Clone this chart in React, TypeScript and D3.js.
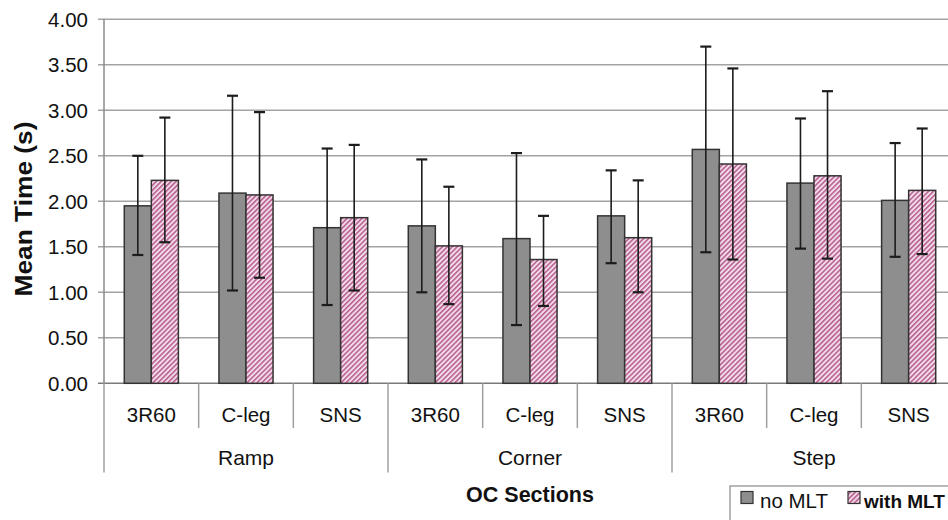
import * as d3 from "d3";

const groups = ["Ramp", "Corner", "Step"];
const prostheses = ["3R60", "C-leg", "SNS"];
const series = ["no MLT", "with MLT"];
const yTicks = [0, 0.5, 1, 1.5, 2, 2.5, 3, 3.5, 4];

// means and error bar ends, order: Ramp(3R60, C-leg, SNS), Corner(...), Step(...)
const noMLT = [1.95, 2.09, 1.71, 1.73, 1.59, 1.84, 2.57, 2.2, 2.01];
const noMLTLow = [1.41, 1.02, 0.86, 1.0, 0.64, 1.32, 1.44, 1.48, 1.39];
const noMLTHigh = [2.5, 3.16, 2.58, 2.46, 2.53, 2.34, 3.7, 2.91, 2.64];
const withMLT = [2.23, 2.07, 1.82, 1.51, 1.36, 1.6, 2.41, 2.28, 2.12];
const withMLTLow = [1.55, 1.16, 1.02, 0.87, 0.85, 1.0, 1.36, 1.37, 1.42];
const withMLTHigh = [2.92, 2.98, 2.62, 2.16, 1.84, 2.23, 3.46, 3.21, 2.8];

const W = 948;
const H = 520;
const M = { left: 104, top: 19.3, right: 956, bottom: 383.3 };

export default function App() {
  const cats = groups.flatMap((g) => prostheses.map((p) => `${g}|${p}`));

  const x0 = d3.scaleBand<string>().domain(cats).range([M.left, M.right]);
  const x1 = d3
    .scaleBand<string>()
    .domain(series)
    .range([0, x0.bandwidth()])
    .paddingOuter(0.75);
  const y = d3.scaleLinear().domain([0, 4]).range([M.bottom, M.top]);

  const rows = [
    { key: series[0], vals: noMLT, lo: noMLTLow, hi: noMLTHigh, fill: "#8e8e8e" },
    { key: series[1], vals: withMLT, lo: withMLTLow, hi: withMLTHigh, fill: "url(#hatch)" },
  ];

  const step = x0.step();
  const font = "Liberation Sans, Arial, sans-serif";

  return (
    <svg
      width={W}
      height={H}
      style={{ position: "absolute", left: 0, top: 0, background: "#fff" }}
      fontFamily={font}
    >
      <defs>
        <pattern
          id="hatch"
          patternUnits="userSpaceOnUse"
          width={3.5}
          height={3.5}
          patternTransform="rotate(45)"
        >
          <rect width={3.5} height={3.5} fill="#f4dbe9" />
          <line x1={0.8} y1={0} x2={0.8} y2={3.5} stroke="#a9467c" strokeWidth={1.3} />
        </pattern>
      </defs>

      {/* gridlines */}
      {yTicks.map((t) => (
        <line
          key={t}
          x1={M.left - 6}
          x2={M.right}
          y1={y(t)}
          y2={y(t)}
          stroke={t === 0 ? "#7a7a7a" : "#a3a3a3"}
          strokeWidth={1.5}
        />
      ))}
      <line x1={M.left} x2={M.left} y1={M.top} y2={M.bottom} stroke="#8a8a8a" strokeWidth={1.5} />

      {/* y tick labels */}
      {yTicks.map((t) => (
        <text
          key={t}
          x={88}
          y={y(t)}
          dy="0.36em"
          textAnchor="end"
          fontSize={20.5}
          fill="#111"
        >
          {t.toFixed(2)}
        </text>
      ))}

      {/* bars */}
      {rows.map((r) =>
        cats.map((c, i) => {
          const bx = (x0(c) ?? 0) + (x1(r.key) ?? 0);
          return (
            <rect
              key={`${r.key}-${c}`}
              x={bx}
              y={y(r.vals[i])}
              width={x1.bandwidth()}
              height={y(0) - y(r.vals[i])}
              fill={r.fill}
              stroke="#333"
              strokeWidth={1.5}
            />
          );
        })
      )}

      {/* error bars */}
      {rows.map((r) =>
        cats.map((c, i) => {
          const cx = (x0(c) ?? 0) + (x1(r.key) ?? 0) + x1.bandwidth() / 2;
          return (
            <g key={`e-${r.key}-${c}`} stroke="#1c1c1c" strokeWidth={1.6}>
              <line x1={cx} x2={cx} y1={y(r.lo[i])} y2={y(r.hi[i])} />
              <line x1={cx - 5.5} x2={cx + 5.5} y1={y(r.hi[i])} y2={y(r.hi[i])} strokeWidth={2.2} />
              <line x1={cx - 5.5} x2={cx + 5.5} y1={y(r.lo[i])} y2={y(r.lo[i])} strokeWidth={2.2} />
            </g>
          );
        })
      )}

      {/* category separators */}
      {d3.range(cats.length + 1).map((k) => (
        <line
          key={k}
          x1={M.left + k * step}
          x2={M.left + k * step}
          y1={M.bottom}
          y2={k % prostheses.length === 0 ? 472.5 : 428}
          stroke="#a0a0a0"
          strokeWidth={1.5}
        />
      ))}

      {/* category labels */}
      {cats.map((c, i) => (
        <text
          key={c}
          x={(x0(c) ?? 0) + step / 2}
          y={421.5}
          textAnchor="middle"
          fontSize={20.5}
          fill="#111"
        >
          {prostheses[i % prostheses.length]}
        </text>
      ))}

      {/* group labels */}
      {groups.map((g, gi) => (
        <text
          key={g}
          x={M.left + (gi * 3 + 1.5) * step}
          y={465}
          textAnchor="middle"
          fontSize={21}
          fill="#111"
        >
          {g}
        </text>
      ))}

      {/* axis titles */}
      <text x={(M.left + M.right) / 2} y={502} textAnchor="middle" fontSize={21.5} fontWeight="bold" fill="#111">
        OC Sections
      </text>
      <text
        transform="translate(32,209) rotate(-90)"
        textAnchor="middle"
        fontSize={23}
        fontWeight="bold"
        fill="#111"
        textLength={175}
        lengthAdjust="spacingAndGlyphs"
      >
        Mean Time (s)
      </text>

      {/* legend */}
      <g>
        <rect x={730} y={486} width={240} height={50} fill="#fff" stroke="#8a8a8a" strokeWidth={1.2} />
        <rect x={741} y={491.5} width={12} height={12} fill="#8e8e8e" stroke="#333" strokeWidth={1.2} />
        <text x={760} y={508} fontSize={20.5} fill="#111">
          {series[0]}
        </text>
        <rect x={848} y={491.5} width={12} height={12} fill="url(#hatch)" stroke="#333" strokeWidth={1.2} />
        <text x={864} y={508} fontSize={19} fontWeight="bold" fill="#111">
          {series[1]}
        </text>
      </g>
    </svg>
  );
}
